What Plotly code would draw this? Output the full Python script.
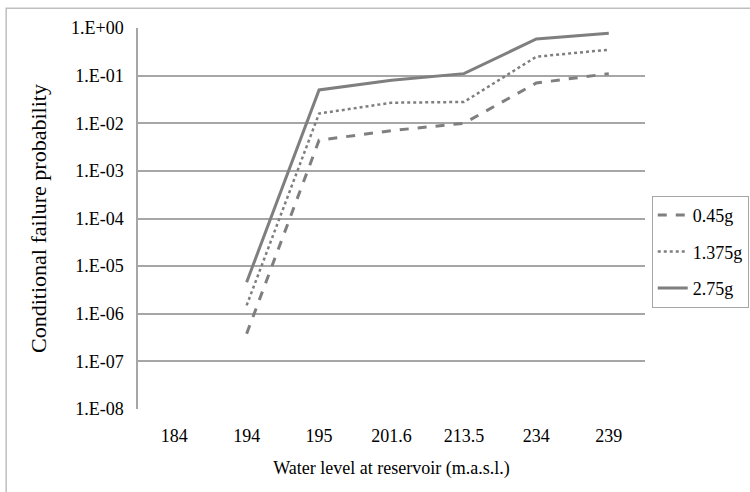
import plotly.graph_objects as go

levels = ["184", "194", "195", "201.6", "213.5", "234", "239"]
p_045 = [None, 3.8e-7, 0.0044, 0.007, 0.0100, 0.070, 0.11]
p_1375 = [None, 1.5e-6, 0.016, 0.027, 0.028, 0.25, 0.35]
p_275 = [None, 4.6e-6, 0.050, 0.080, 0.11, 0.59, 0.78]
y_ticks = [1e0, 1e-1, 1e-2, 1e-3, 1e-4, 1e-5, 1e-6, 1e-7, 1e-8]
y_ticktext = ["1.E+00", "1.E-01", "1.E-02", "1.E-03", "1.E-04",
              "1.E-05", "1.E-06", "1.E-07", "1.E-08"]

font_family = "Liberation Serif"
line_color = "#7f7f7f"

fig = go.Figure()

series = [
    ("0.45g", p_045, "dash", 3),
    ("1.375g", p_1375, "dot", 2.5),
    ("2.75g", p_275, "solid", 3),
]
for name, vals, dash, width in series:
    fig.add_trace(go.Scatter(
        x=levels, y=vals, name=name, mode="lines",
        line=dict(color=line_color, dash=dash, width=width),
        connectgaps=False,
        legendgroup=name,
    ))

fig.update_xaxes(
    type="category",
    categoryorder="array",
    categoryarray=levels,
    range=[-0.5, 6.5],
    automargin=False,
    showgrid=False,
    showline=False,
    ticks="",
    ticklabelstandoff=14,
    tickfont=dict(family=font_family, size=18, color="#000"),
    title=dict(text="Water level at reservoir (m.a.s.l.)",
               font=dict(family=font_family, size=18, color="#000"),
               standoff=16),
)

fig.update_yaxes(
    type="log",
    range=[-8, 0],
    tickmode="array",
    tickvals=y_ticks,
    ticktext=y_ticktext,
    automargin=False,
    showgrid=True,
    gridcolor="#a6a6a6",
    gridwidth=1.5,
    showline=True,
    linecolor="#a6a6a6",
    linewidth=1.5,
    ticks="",
    ticklabelstandoff=9,
    tickfont=dict(family=font_family, size=18, color="#000"),
    title=dict(text="Conditional failure probability",
               font=dict(family=font_family, size=22, color="#000"),
               standoff=18),
)

# outer chart border
fig.add_shape(type="rect", xref="paper", yref="paper",
              x0=-0.26, x1=1.3, y0=-0.3, y1=1.052,
              line=dict(color="#bfbfbf", width=1.5))

fig.update_layout(
    width=750, height=492,
    margin=dict(l=138, r=105, t=28, b=83),
    plot_bgcolor="white",
    paper_bgcolor="white",
    font=dict(family=font_family),
    showlegend=True,
    legend=dict(
        xref="container", yref="container",
        x=0.869, y=0.488, xanchor="left", yanchor="middle",
        bordercolor="#a6a6a6", borderwidth=1,
        font=dict(family=font_family, size=18, color="#000"),
        tracegroupgap=10, itemwidth=30,
    ),
)

fig.write_html("out.html", config={"displayModeBar": False},
               post_script="document.body.style.margin='0';")
